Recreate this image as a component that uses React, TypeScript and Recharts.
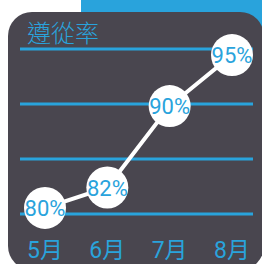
import React from 'react';
import { LineChart, Line, XAxis, YAxis, ReferenceLine } from 'recharts';

const months = ['5月', '6月', '7月', '8月'];
const rates = [80, 82, 90, 95];
const gridLevels = [79.4, 84.8, 90.2, 95.6];

const BLUE = '#29a3dc';
const PANEL = '#49464f';

const data = months.map((m, i) => ({ month: m, rate: rates[i] }));

const RateDot = (props: any) => {
  const { cx, cy, value, index } = props;
  return (
    <g key={`dot-${index}`}>
      <circle cx={cx} cy={cy} r={21} fill="#fff" />
      <text
        x={cx}
        y={cy + 8}
        textAnchor="middle"
        fill={BLUE}
        fontSize={22}
        fontFamily="Roboto, 'Liberation Sans', sans-serif"
      >
        {value}%
      </text>
    </g>
  );
};

const MonthTick = (props: any) => {
  const { x, payload } = props;
  return (
    <text
      x={x}
      y={258}
      textAnchor="middle"
      fill={BLUE}
      fontSize={23}
      fontFamily="Roboto, 'Noto Sans CJK TC', sans-serif"
    >
      {payload.value}
    </text>
  );
};

export default function App() {
  return (
    <div style={{ position: 'fixed', left: 0, top: 0, width: 262, height: 264, background: '#fff', overflow: 'hidden' }}>
      <div style={{ position: 'absolute', left: 81, top: 0, width: 181, height: 60, background: BLUE }} />
      <div
        style={{
          position: 'absolute',
          left: 8,
          top: 12,
          width: 256,
          height: 258,
          background: PANEL,
          borderRadius: 24,
        }}
      />
      <div
        style={{
          position: 'absolute',
          left: 27,
          top: 17,
          color: BLUE,
          fontSize: 24,
          fontWeight: 300,
          fontFamily: "'Noto Sans CJK TC', sans-serif",
          lineHeight: '30px',
        }}
      >
        遵從率
      </div>
      <div style={{ position: 'absolute', left: 0, top: 0 }}>
        <LineChart width={262} height={264} data={data} margin={{ top: 49, right: 9, bottom: 10, left: 20 }}>
          <XAxis
            dataKey="month"
            height={40}
            axisLine={false}
            tickLine={false}
            padding={{ left: 25, right: 21 }}
            tick={MonthTick}
            interval={0}
          />
          <YAxis hide width={0} domain={[gridLevels[0], gridLevels[gridLevels.length - 1]]} />
          {gridLevels.map((g) => (
            <ReferenceLine key={g} y={g} stroke={BLUE} strokeWidth={3} />
          ))}
          <Line
            type="linear"
            dataKey="rate"
            stroke="#fff"
            strokeWidth={4}
            dot={<RateDot />}
            activeDot={false}
            isAnimationActive={false}
          />
        </LineChart>
      </div>
    </div>
  );
}
